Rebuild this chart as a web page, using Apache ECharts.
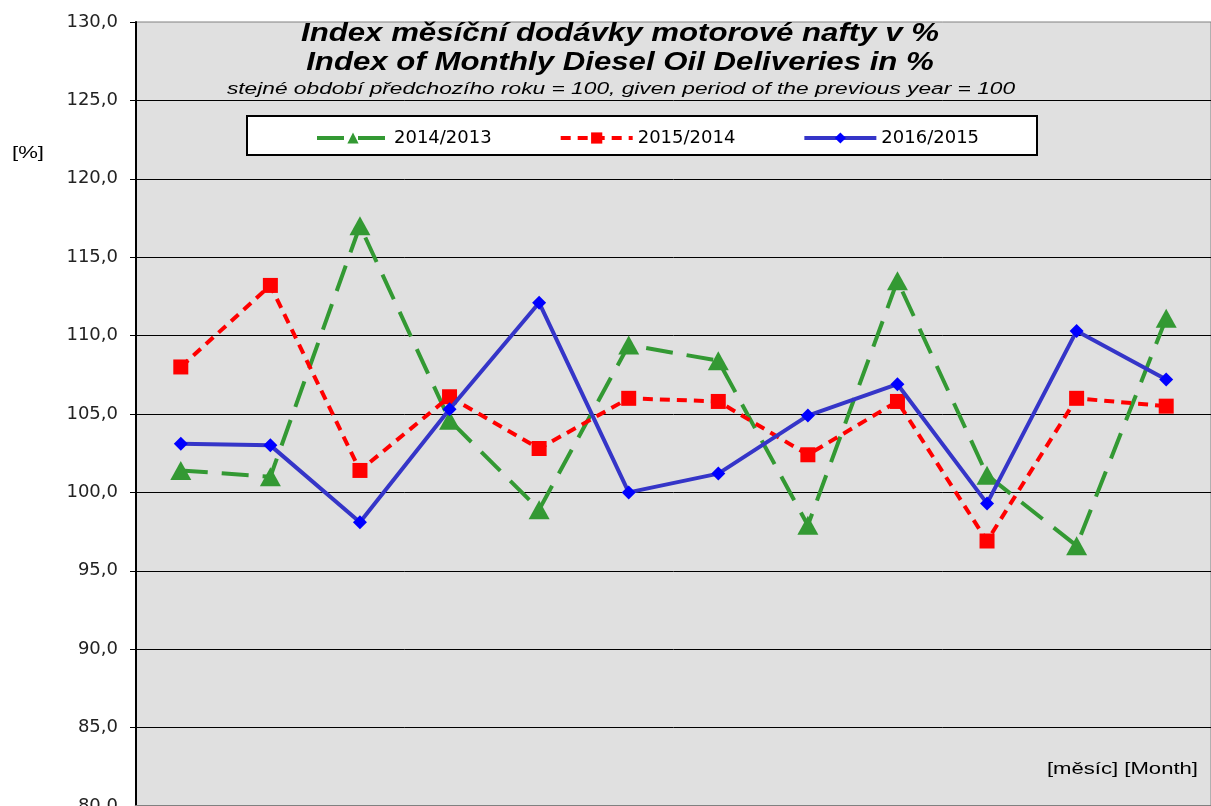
<!DOCTYPE html>
<html lang="cs">

<head>
  <meta charset="UTF-8">
  <title>Index měsíční dodávky motorové nafty</title>
  <script src="https://cdn.jsdelivr.net/npm/echarts@6/dist/echarts.min.js"></script>
  <style>
    html, body { margin: 0; padding: 0; background: #fff; }
    #chart { width: 1211px; height: 806px; }
  </style>
</head>

<body>
  <div id="chart"></div>
  <script>
    // data (12 months, index in %)
    var months = ['1', '2', '3', '4', '5', '6', '7', '8', '9', '10', '11', '12']
    var idx2014 = [101.4, 101.0, 117.0, 104.6, 98.9, 109.4, 108.4, 97.9, 113.5, 101.1, 96.6, 111.1]
    var idx2015 = [108.0, 113.2, 101.4, 106.1, 102.8, 106.0, 105.8, 102.4, 105.8, 96.9, 106.0, 105.5]
    var idx2016 = [103.1, 103.0, 98.1, 105.3, 112.1, 100.0, 101.2, 104.9, 106.9, 99.3, 110.3, 107.2]
    var names = ['2014/2013', '2015/2014', '2016/2015']

    var font = 'Liberation Sans, Arial, sans-serif'
    var wide = 'DejaVu Sans, sans-serif'
    var myChart = echarts.init(document.getElementById('chart'))

    var option = {
      animation: false,
      grid: {
        left: 136, top: 22, right: 0, bottom: 0,
        outerBoundsMode: 'none',
        show: true,
        backgroundColor: '#e0e0e0',
        borderColor: '#808080',
        borderWidth: 1
      },
      legend: {
        left: 310, top: 124,
        itemWidth: 72, itemHeight: 14, itemGap: 67,
        lineStyle: { width: 'inherit', type: 'inherit' },
        textStyle: { fontFamily: wide, fontSize: 18, color: '#000' },
        data: names,
        z: 20
      },
      graphic: [
        // legend frame
        { type: 'rect', z: 10, shape: { x: 247, y: 116, width: 790, height: 39 },
          style: { fill: '#fff', stroke: '#000', lineWidth: 2 } },
        // titles (the picture is stretched sideways, hence scaleX)
        { type: 'text', z: 10, x: 620, y: 21, scaleX: 1.2,
          style: { text: 'Index měsíční dodávky motorové nafty v %', textAlign: 'center',
            font: 'italic bold 26px ' + font, fill: '#000' } },
        { type: 'text', z: 10, x: 620, y: 50, scaleX: 1.2,
          style: { text: 'Index of Monthly Diesel Oil Deliveries in %', textAlign: 'center',
            font: 'italic bold 26px ' + font, fill: '#000' } },
        { type: 'text', z: 10, x: 621, y: 82, scaleX: 1.42,
          style: { text: 'stejné období předchozího roku = 100, given period of the previous year = 100',
            textAlign: 'center', font: 'italic 16px ' + font, fill: '#000' } },
        { type: 'text', z: 10, x: 12, y: 145, scaleX: 1.3,
          style: { text: '[%]', font: '17px ' + font, fill: '#000' } },
        { type: 'text', z: 10, x: 1198, y: 761, scaleX: 1.3,
          style: { text: '[měsíc] [Month]', textAlign: 'right', font: '17px ' + font, fill: '#000' } }
      ],
      xAxis: {
        type: 'category',
        data: months,
        boundaryGap: true,
        axisLine: { lineStyle: { color: '#808080', width: 3 } },
        axisTick: { show: false },
        axisLabel: { show: false },
        splitLine: { show: false }
      },
      yAxis: {
        type: 'value',
        min: 80, max: 130, interval: 5,
        axisLine: { show: true, lineStyle: { color: '#000', width: 2 } },
        axisTick: { show: true, length: 6, lineStyle: { color: '#000' } },
        axisLabel: {
          margin: 18,
          fontFamily: wide, fontSize: 18, color: '#222',
          formatter: function (v) { return v.toFixed(1).replace('.', ',') }
        },
        splitLine: { showMaxLine: false, lineStyle: { color: '#000', width: 1 } }
      },
      series: [
        {
          name: names[0], type: 'line', data: idx2014,
          symbol: 'triangle', symbolSize: [21, 19],
          itemStyle: { color: '#339933' },
          lineStyle: { color: '#339933', width: 4, type: [27, 14] },
          z: 3
        },
        {
          name: names[1], type: 'line', data: idx2015,
          symbol: 'rect', symbolSize: 15,
          itemStyle: { color: '#ff0000' },
          lineStyle: { color: '#ff0000', width: 4, type: [10, 7] },
          z: 4
        },
        {
          name: names[2], type: 'line', data: idx2016,
          symbol: 'diamond', symbolSize: 14,
          itemStyle: { color: '#0000ff' },
          lineStyle: { color: '#3535c8', width: 4 },
          z: 5
        }
      ]
    }
    myChart.setOption(option)
  </script>
</body>

</html>
